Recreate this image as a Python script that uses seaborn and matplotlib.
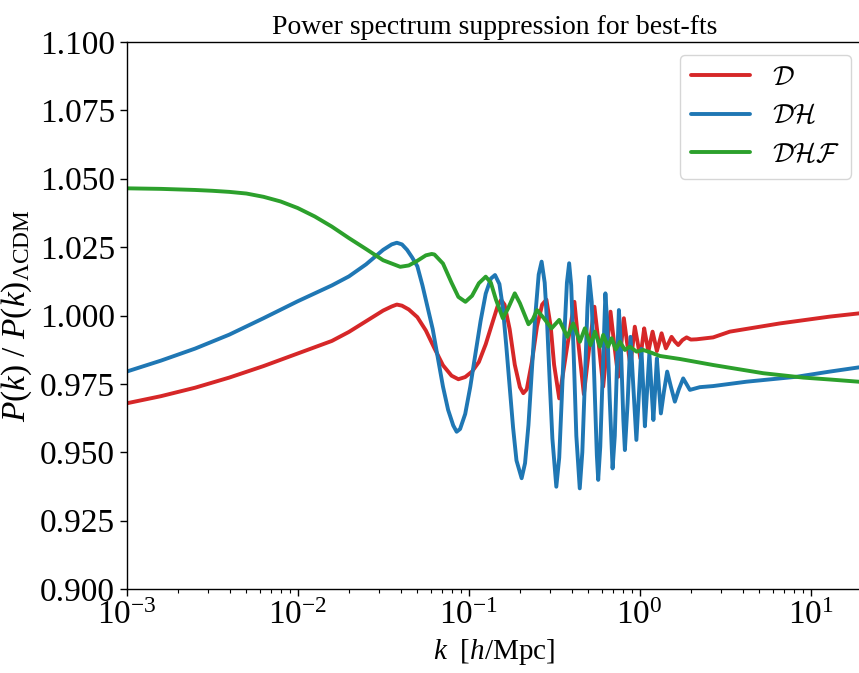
import numpy as np
import pandas as pd
import matplotlib
matplotlib.use("Agg")
import matplotlib.pyplot as plt
from matplotlib.ticker import FormatStrFormatter
import seaborn as sns

# ---------------- data ----------------
# k in h/Mpc, ratio P(k)/P(k)_LCDM
k_D = [0.001, 0.001585, 0.002512, 0.003981, 0.00631, 0.01, 0.01585, 0.01995, 0.02512,
       0.03162, 0.03548, 0.03802, 0.04074, 0.04467, 0.05012, 0.05623, 0.0631, 0.07079,
       0.07943, 0.0871, 0.0955, 0.1047, 0.1148, 0.1259, 0.138, 0.1479, 0.1549, 0.1622,
       0.1738, 0.1862, 0.1995, 0.2089, 0.2188, 0.2344, 0.2512, 0.2692, 0.2851, 0.302,
       0.3162, 0.3388, 0.3757, 0.4157, 0.4416, 0.4722, 0.507, 0.5442, 0.5781, 0.6124,
       0.6437, 0.6761, 0.7122, 0.7499, 0.7774, 0.8091, 0.8451, 0.8834, 0.9112, 0.9377,
       0.9748, 1.0109, 1.0371, 1.0639, 1.0944, 1.1257, 1.158, 1.1912, 1.2272, 1.2624,
       1.302, 1.345, 1.387, 1.425, 1.48, 1.538, 1.608, 1.683, 1.78, 1.884, 1.995, 2.154,
       2.693, 3.373, 6.613, 12.98, 20.0]
P_D = [0.9679, 0.9705, 0.9736, 0.9773, 0.9815, 0.9861, 0.9907, 0.9940, 0.9979,
       1.0018, 1.0033, 1.0040, 1.0036, 1.0022, 0.9994, 0.9945, 0.9880, 0.9818,
       0.9780, 0.9767, 0.9775, 0.9795, 0.9830, 0.9895, 0.9975, 1.0035, 1.0057, 1.0040,
       0.9950, 0.9820, 0.9738, 0.9716, 0.9730, 0.9830, 0.9960, 1.0040, 1.0058, 0.9960,
       0.9820, 0.9697, 0.9880, 1.0050, 0.9880, 0.9712, 0.9880, 1.0032, 0.9890, 0.9740,
       0.9880, 1.0014, 0.9890, 0.9776, 0.9880, 0.9990, 0.9900, 0.9819, 0.9890, 0.9959,
       0.9900, 0.9843, 0.9900, 0.9953, 0.9910, 0.9868, 0.9905, 0.9941, 0.9905, 0.9870,
       0.9900, 0.9935, 0.9905, 0.9880, 0.9900, 0.9922, 0.9905, 0.9892, 0.9910, 0.9920,
       0.9912, 0.9913, 0.9920, 0.9941, 0.9971, 0.9996, 1.0009]

k_DH = [0.001, 0.001585, 0.002512, 0.003981, 0.00631, 0.01, 0.01585, 0.01995, 0.02512,
        0.03162, 0.03548, 0.03802, 0.04074, 0.04365, 0.04677, 0.05012, 0.0537, 0.05754,
        0.06166, 0.06607, 0.07079, 0.07586, 0.08128, 0.08511, 0.08913, 0.0955, 0.1023,
        0.1096, 0.1175, 0.1259, 0.1349, 0.1427, 0.1514, 0.1585, 0.166, 0.1738, 0.182,
        0.1905, 0.2042, 0.2138, 0.2239, 0.2344, 0.2455, 0.2570, 0.2673, 0.2786, 0.2884,
        0.2985, 0.309, 0.3258, 0.3388, 0.3508, 0.3631, 0.3758, 0.3873, 0.3981, 0.4121,
        0.4266, 0.4467, 0.4624, 0.4786, 0.4955, 0.507, 0.5248, 0.5433, 0.5623, 0.5727,
        0.5888, 0.6095, 0.631, 0.6457, 0.6683, 0.6952, 0.7161, 0.7413, 0.7569, 0.7762,
        0.8035, 0.8204, 0.8511, 0.8851, 0.9211, 0.9579, 0.9906, 1.0245, 1.0498,
        1.074, 1.1076, 1.1411, 1.1722, 1.2042, 1.2337, 1.2624, 1.2969, 1.3323, 1.387,
        1.45, 1.524, 1.608, 1.697, 1.799, 1.969, 2.252, 2.693, 4.224, 8.28, 12.98, 20.0]
P_DH = [0.9795, 0.9835, 0.9879, 0.9930, 0.9990, 1.0052, 1.0110, 1.0143, 1.0187,
        1.0240, 1.0260, 1.0266, 1.0260, 1.0240, 1.0212, 1.0180, 1.0110, 1.0030,
        0.9950, 0.9845, 0.9740, 0.9655, 0.9598, 0.9575, 0.9585, 0.9640, 0.9740,
        0.9860, 0.9980, 1.0080, 1.0135, 1.0148, 1.0115, 1.0030, 0.9890, 0.9740, 0.9590,
        0.9470, 0.9405, 0.9460, 0.9600, 0.9800, 1.0000, 1.0150, 1.0197, 1.0120, 0.9960,
        0.9750, 0.9550, 0.9374, 0.9480, 0.9700, 0.9930, 1.0120, 1.0191, 1.0110, 0.9850,
        0.9560, 0.9368, 0.9500, 0.9760, 1.0030, 1.0142, 1.0050, 0.9770, 0.9490, 0.9399,
        0.9520, 0.9800, 1.0081, 0.9980, 0.9700, 0.9441, 0.9560, 0.9860, 1.0020, 0.9900,
        0.9620, 0.9508, 0.9680, 0.9922, 0.9730, 0.9545, 0.9710, 0.9878, 0.9740,
        0.9595, 0.9730, 0.9862, 0.9740, 0.9618, 0.9730, 0.9843, 0.9740, 0.9642, 0.9720,
        0.9795, 0.9740, 0.9685, 0.9730, 0.9770, 0.9728, 0.9738, 0.9742, 0.9758, 0.9776,
        0.9795, 0.9812]

k_DHF = [0.001, 0.001259, 0.001585, 0.001995, 0.002512, 0.003162, 0.003981, 0.005012,
         0.00631, 0.007943, 0.01, 0.01259, 0.01585, 0.01995, 0.02512, 0.03162, 0.03981,
         0.04467, 0.05012, 0.05623, 0.06081, 0.0631, 0.07079, 0.07943, 0.0871, 0.09579,
         0.1047, 0.1148, 0.1259, 0.1349, 0.1445, 0.1585, 0.1698, 0.1862, 0.1995, 0.2239,
         0.2371, 0.2512, 0.2754, 0.3055, 0.3388, 0.3776, 0.4093, 0.4477, 0.4786, 0.5164,
         0.5483, 0.5862, 0.6124, 0.6547, 0.6855, 0.7261, 0.7674, 0.8204, 0.877, 0.9594,
         1.0498, 1.148, 1.315, 1.721, 2.693, 5.284, 9.06, 12.98, 20.0]
P_DHF = [1.0465, 1.0464, 1.0463, 1.0461, 1.0459, 1.0456, 1.0452, 1.0446,
         1.0434, 1.0417, 1.0393, 1.0362, 1.0325, 1.0283, 1.0243, 1.0202, 1.0178,
         1.0183, 1.0200, 1.0220, 1.0225, 1.0223, 1.0190, 1.0120, 1.0068, 1.0050,
         1.0072, 1.0118, 1.0142, 1.0120, 1.0058, 0.9990, 1.0025, 1.0081, 1.0045, 0.9968,
         0.9985, 1.0020, 0.9990, 0.9953, 0.9984, 0.9922, 0.9971, 0.9904, 0.9953, 0.9892,
         0.9941, 0.9886, 0.9929, 0.9886, 0.9917, 0.9876, 0.9904, 0.9874, 0.9886, 0.9868,
         0.9874, 0.9866, 0.9852, 0.9841, 0.9819, 0.9789, 0.9773, 0.9766, 0.9757]

labels = [r"$\mathcal{D}$", r"$\mathcal{DH}$", r"$\mathcal{DHF}$"]
colors = ["#d62728", "#1f77b4", "#2ca02c"]
y_ticks = [0.900, 0.925, 0.950, 0.975, 1.000, 1.025, 1.050, 1.075, 1.100]
title = "Power spectrum suppression for best-fts"

# ---------------- style ----------------
sns.set_theme(style="ticks")
plt.rcParams.update({
    "font.family": ["Liberation Serif", "DejaVu Serif"],
    "mathtext.fontset": "custom",
    "mathtext.rm": "Liberation Serif",
    "mathtext.it": "Liberation Serif:italic",
    "mathtext.bf": "Liberation Serif:bold",
    "mathtext.cal": "cmsy10",
    "axes.edgecolor": "black",
    "axes.labelcolor": "black",
    "text.color": "black",
    "xtick.color": "black",
    "ytick.color": "black",
    "axes.linewidth": 1.0,
})

df = pd.concat([
    pd.DataFrame({"k": k_D, "ratio": P_D, "model": labels[0]}),
    pd.DataFrame({"k": k_DH, "ratio": P_DH, "model": labels[1]}),
    pd.DataFrame({"k": k_DHF, "ratio": P_DHF, "model": labels[2]}),
], ignore_index=True)

fig = plt.figure(figsize=(8.59, 6.73), dpi=100)
ax = fig.add_axes([0.1475, 0.1248, 0.856, 0.8128])

sns.lineplot(data=df, x="k", y="ratio", hue="model", hue_order=labels,
             palette=colors, estimator=None, sort=False, linewidth=2.8, ax=ax)
for ln in ax.get_lines():
    ln.set_solid_joinstyle("round")
    ln.set_solid_capstyle("round")

ax.set_xscale("log")
ax.set_xlim(1e-3, 20)
ax.set_ylim(0.9, 1.1)
ax.set_yticks(y_ticks)
ax.yaxis.set_major_formatter(FormatStrFormatter("%.3f"))
ax.tick_params(axis="both", which="major", labelsize=24, length=5, width=1.0, direction="out")
ax.tick_params(axis="x", which="minor", length=3, width=0.8, direction="out")

ax.set_xlabel(r"$k\ \ [h/\mathrm{Mpc}]$", fontsize=21)
ax.set_ylabel(r"$P(k)$ / $P(k)_{\Lambda\mathrm{CDM}}$", fontsize=24)
ax.set_title(title, fontsize=20)

leg = ax.legend(loc="upper right", bbox_to_anchor=(0.9907, 0.9183),
                bbox_transform=fig.transFigure, borderaxespad=0,
                fontsize=19.5, handlelength=2.2, frameon=True, fancybox=True)
leg.get_frame().set_edgecolor("0.8")
for line in leg.get_lines():
    line.set_linewidth(2.8)

fig.savefig("out.png", dpi=100)
